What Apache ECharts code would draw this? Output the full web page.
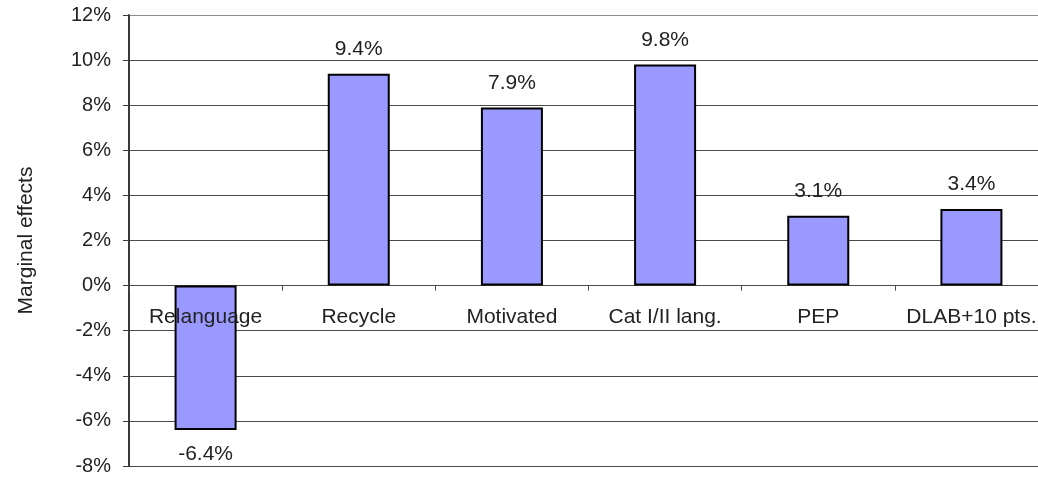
<!DOCTYPE html>
<html>
<head>
<meta charset="utf-8">
<script src="https://cdn.jsdelivr.net/npm/echarts@6/dist/echarts.min.js"></script>
<style>
html,body{margin:0;padding:0;background:#fff;}
#chart{width:1038px;height:478px;}
</style>
</head>
<body>
<div id="chart"></div>
<script>
var categories = ['Relanguage', 'Recycle', 'Motivated', 'Cat I/II lang.', 'PEP', 'DLAB+10 pts.'];
var marginalEffects = [-6.4, 9.4, 7.9, 9.8, 3.1, 3.4];
var yTicks = [-8, -6, -4, -2, 0, 2, 4, 6, 8, 10, 12];

var FONT = '"Liberation Sans", Arial, sans-serif';
var gridColors = yTicks.map(function (v, i) { return i === yTicks.length - 1 ? '#8c8c8c' : '#4a4a4a'; });
var zeroLine = categories.map(function () { return 0; });

var chart = echarts.init(document.getElementById('chart'), null, {renderer: 'canvas'});
chart.setOption({
  animation: false,
  backgroundColor: '#ffffff',
  grid: {left: 129, right: -10, top: 15, bottom: 12, containLabel: false, outerBoundsMode: 'none'},
  xAxis: {
    type: 'category',
    data: categories,
    boundaryGap: true,
    axisLine: {show: true, onZero: true, lineStyle: {color: '#4a4a4a', width: 1}},
    axisTick: {show: true, length: 5, alignWithLabel: false, lineStyle: {color: '#4a4a4a', width: 1}},
    axisLabel: {show: false},
    splitLine: {show: false}
  },
  yAxis: {
    type: 'value',
    min: yTicks[0],
    max: yTicks[yTicks.length - 1],
    interval: 2,
    name: 'Marginal effects',
    nameLocation: 'middle',
    nameGap: 92,
    nameRotate: 90,
    nameTextStyle: {color: '#222', fontFamily: FONT, fontSize: 21},
    axisLine: {show: true, lineStyle: {color: '#3a3a3a', width: 2}},
    axisTick: {show: true, length: 6, lineStyle: {color: '#3a3a3a', width: 1}},
    axisLabel: {margin: 18, color: '#222', fontFamily: FONT, fontSize: 20,
      formatter: function (v) { return v + '%'; }},
    splitLine: {show: true, lineStyle: {color: gridColors, width: 1}}
  },
  series: [{
    type: 'bar',
    data: marginalEffects,
    barWidth: 62,
    z: 2,
    itemStyle: {color: '#9999ff', borderColor: '#000', borderWidth: 2},
    label: {
      show: true,
      position: 'outside',
      distance: 14,
      color: '#222',
      fontFamily: FONT,
      fontSize: 21,
      formatter: function (p) { return p.value.toFixed(1) + '%'; }
    }
  }, {
    type: 'bar',
    data: zeroLine,
    barWidth: 62,
    barGap: '-100%',
    z: 5,
    silent: true,
    itemStyle: {color: 'rgba(0,0,0,0)', borderWidth: 0},
    label: {
      show: true,
      position: 'bottom',
      distance: 21,
      color: '#222',
      fontFamily: FONT,
      fontSize: 21,
      formatter: function (p) { return categories[p.dataIndex]; }
    }
  }]
});
</script>
</body>
</html>
